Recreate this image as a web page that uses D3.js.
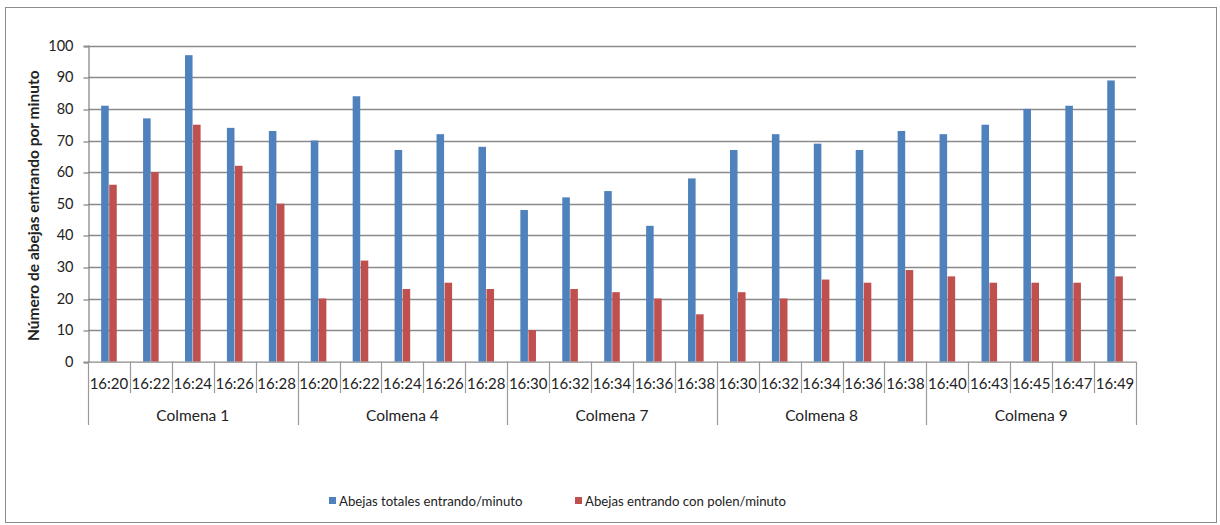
<!DOCTYPE html>
<html><head><meta charset="utf-8">
<script src="https://cdn.jsdelivr.net/npm/d3@7"></script>
<style>
html,body{margin:0;padding:0;background:#fff;}
text{font-family:Lato,"Liberation Sans",sans-serif;fill:#222;}
</style></head>
<body><svg id="c" width="1220" height="525"></svg>
<script>
const groups = ["Colmena 1","Colmena 4","Colmena 7","Colmena 8","Colmena 9"];
const times = [
  ["16:20","16:22","16:24","16:26","16:28"],
  ["16:20","16:22","16:24","16:26","16:28"],
  ["16:30","16:32","16:34","16:36","16:38"],
  ["16:30","16:32","16:34","16:36","16:38"],
  ["16:40","16:43","16:45","16:47","16:49"]
];
const seriesNames = ["Abejas totales entrando/minuto","Abejas entrando con polen/minuto"];
const totales = [81,77,97,74,73, 70,84,67,72,68, 48,52,54,43,58, 67,72,69,67,73, 72,75,80,81,89];
const polen   = [56,60,75,62,50, 20,32,23,25,23, 10,23,22,20,15, 22,20,26,25,29, 27,25,25,25,27];
const yTicks = [0,10,20,30,40,50,60,70,80,90,100];
const colors = ["#4F81BD","#C0504D"];

const svg = d3.select("#c");
const L = 88, R = 1136, T = 45.7, B = 361.7;

const cats = [];
groups.forEach((g,gi)=>times[gi].forEach((t,ti)=>cats.push({g,gi,t,key:g+"|"+t+"|"+ti})));
const values = [totales, polen];

const x = d3.scaleBand().domain(cats.map(c=>c.key)).range([L,R]).padding(0);
const y = d3.scaleLinear().domain([0,100]).range([B,T]);
const xs = d3.scaleBand().domain([0,1]).range([-7.8,7.8]).paddingInner(0.06);

svg.append("rect").attr("x",5.5).attr("y",7.5).attr("width",1211).attr("height",515)
  .attr("fill","none").attr("stroke","#8c8c8c").attr("stroke-width",1);

svg.append("g").selectAll("line").data(yTicks.filter(d=>d>0)).join("line")
  .attr("x1",L).attr("x2",R).attr("y1",d=>Math.round(y(d))+0.5).attr("y2",d=>Math.round(y(d))+0.5)
  .attr("stroke","#8a8a8a").attr("stroke-width",1.3);

const ya = svg.append("g").attr("transform",`translate(${L+0.5},0)`)
  .call(d3.axisLeft(y).tickValues(yTicks).tickSize(5).tickPadding(10));
ya.select(".domain").attr("stroke","#8a8a8a").attr("stroke-width",1.3);
ya.selectAll(".tick line").attr("stroke","#8a8a8a").attr("stroke-width",1.3)
  .attr("transform",d=>`translate(0,${Math.round(y(d))+0.5-y(d)})`);
ya.selectAll(".tick text").style("font-size","14.5px").attr("fill","#222")
  .style("font-family","Lato, 'Liberation Sans', sans-serif");

const bars = svg.append("g");
values.forEach((vals,si)=>{
  bars.selectAll(".s"+si).data(cats).join("rect").attr("class","s"+si)
    .attr("x",(d)=>x(d.key)+x.bandwidth()/2+xs(si))
    .attr("width",xs.bandwidth())
    .attr("y",(d,i)=>y(vals[i]))
    .attr("height",(d,i)=>B-y(vals[i]))
    .attr("fill",colors[si]);
});

svg.append("line").attr("x1",L).attr("x2",R).attr("y1",B+0.5).attr("y2",B+0.5)
  .attr("stroke","#8a8a8a").attr("stroke-width",1.3);

const sep = svg.append("g");
d3.range(cats.length+1).forEach(i=>{
  const xp = i<cats.length ? x(cats[i].key) : R;
  const isGroup = (i % 5 === 0);
  sep.append("line").attr("x1",Math.round(xp)+0.5).attr("x2",Math.round(xp)+0.5)
    .attr("y1",B).attr("y2",isGroup?425:393)
    .attr("stroke","#9a9a9a").attr("stroke-width",1.2);
});

svg.append("g").selectAll("text").data(cats).join("text")
  .attr("x",d=>x(d.key)+x.bandwidth()/2).attr("y",388.5)
  .attr("text-anchor","middle").style("font-size","15px").text(d=>d.t);

svg.append("g").selectAll("text").data(groups).join("text")
  .attr("x",(g,gi)=>(x(cats[gi*5].key)+ (gi*5+5<cats.length ? x(cats[gi*5+5].key) : R))/2)
  .attr("y",420.5).attr("text-anchor","middle").style("font-size","15.5px").text(d=>d);

svg.append("text").attr("transform",`translate(39,${(T+B)/2+2}) rotate(-90)`)
  .attr("text-anchor","middle").style("font-size","15.5px").style("font-weight","bold")
  .text("Número de abejas entrando por minuto");

const lg = svg.append("g");
const lx = [329, 575];
seriesNames.forEach((n,i)=>{
  lg.append("rect").attr("x",lx[i]).attr("y",497).attr("width",7).attr("height",7).attr("fill",colors[i]);
  lg.append("text").attr("x",lx[i]+10).attr("y",505.5).style("font-size","13.2px").text(n);
});
</script></body></html>
